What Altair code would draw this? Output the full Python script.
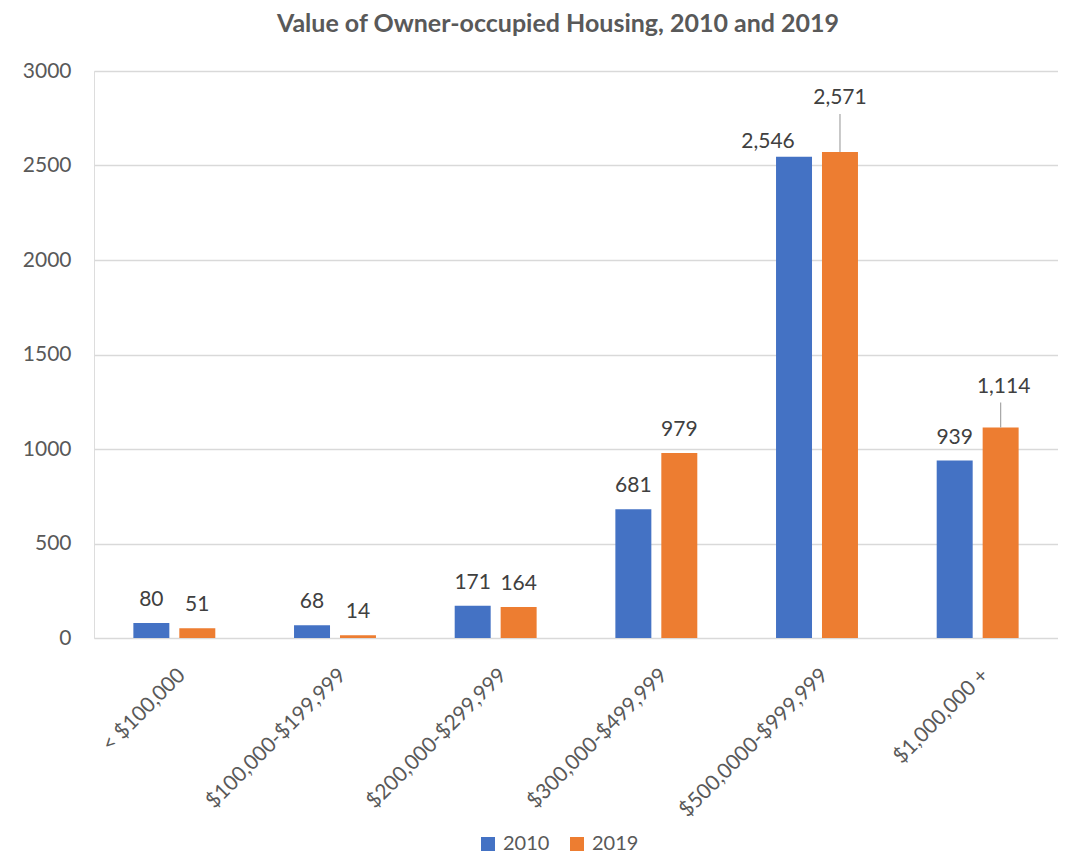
import altair as alt
import pandas as pd

categories = ["< $100,000", "$100,000-$199,999", "$200,000-$299,999",
              "$300,000-$499,999", "$500,0000-$999,999", "$1,000,000 +"]
years = ["2010", "2019"]
values_2010 = [80, 68, 171, 681, 2546, 939]
values_2019 = [51, 14, 164, 979, 2571, 1114]
y_ticks = [0, 500, 1000, 1500, 2000, 2500, 3000]

rows = []
for c, v in zip(categories, values_2010):
    rows.append({"category": c, "year": "2010", "value": v})
for c, v in zip(categories, values_2019):
    rows.append({"category": c, "year": "2019", "value": v})
df = pd.DataFrame(rows)

FONT = "Lato"
GRAY = "#595959"
LABEL = "#404040"

base = alt.Chart(df).encode(
    x=alt.X("category:N", sort=categories,
            scale=alt.Scale(paddingInner=0.49, paddingOuter=0.245),
            axis=alt.Axis(title=None, labelAngle=-45, domain=False, ticks=False,
                          labelFontSize=21, labelColor=GRAY, labelFont=FONT,
                          labelPadding=26, labelLimit=400)),
    xOffset=alt.XOffset("year:N", sort=years,
                        scale=alt.Scale(paddingInner=0.217, paddingOuter=0)),
    y=alt.Y("value:Q",
            scale=alt.Scale(domain=[0, 3000], nice=False),
            axis=alt.Axis(title=None, values=y_ticks, format="d", domain=False,
                          ticks=False, grid=True, gridColor="#d9d9d9",
                          gridWidth=1.5, labelFontSize=21, labelColor=GRAY,
                          labelFont=FONT, labelPadding=23)),
)

bars = base.mark_bar().encode(
    color=alt.Color("year:N", sort=years,
                    scale=alt.Scale(domain=years, range=["#4472C4", "#ED7D31"]),
                    legend=alt.Legend(title=None, orient="none", direction="horizontal",
                                      legendX=384, legendY=763, padding=0,
                                      symbolType="square", symbolSize=196,
                                      symbolStrokeWidth=0, labelFontSize=20,
                                      labelColor=GRAY, labelFont=FONT,
                                      labelOffset=5, columnPadding=17))
)

special = "datum.value == 2546 || datum.value == 2571 || datum.value == 1114"

txt = dict(baseline="alphabetic", fontSize=21, color=LABEL, font=FONT)
text_enc = dict(text=alt.Text("value:Q", format=",d"))

labels = base.transform_filter("!(" + special + ")").mark_text(dy=-17, **txt).encode(**text_enc)
lab_2546 = base.transform_filter("datum.value == 2546").mark_text(dx=-26, dy=-9, **txt).encode(**text_enc)
lab_2571 = base.transform_filter("datum.value == 2571").mark_text(dy=-48, **txt).encode(**text_enc)
lab_1114 = base.transform_filter("datum.value == 1114").mark_text(dx=3, dy=-34, **txt).encode(**text_enc)

rule_2571 = base.transform_filter("datum.value == 2571").mark_rule(
    color="#a6a6a6", strokeWidth=1.2, y2Offset=-38).encode(y2=alt.Y2("value:Q"))
rule_1114 = base.transform_filter("datum.value == 1114").mark_rule(
    color="#a6a6a6", strokeWidth=1.2, y2Offset=-25).encode(y2=alt.Y2("value:Q"))

chart = alt.layer(bars, rule_2571, rule_1114, labels, lab_2546, lab_2571, lab_1114).properties(
    width=964, height=567,
    title=alt.TitleParams("Value of Owner-occupied Housing, 2010 and 2019",
                          fontSize=25, fontWeight="bold", color=GRAY, font=FONT,
                          anchor="middle", frame="group", dx=-18, offset=23),
    autosize=alt.AutoSizeParams(type="none"),
    padding={"left": 86, "top": 63, "right": 0, "bottom": 217},
).configure_view(stroke=None).configure(font=FONT)

chart.save("out.html", embed_options={"renderer": "svg", "actions": False})
